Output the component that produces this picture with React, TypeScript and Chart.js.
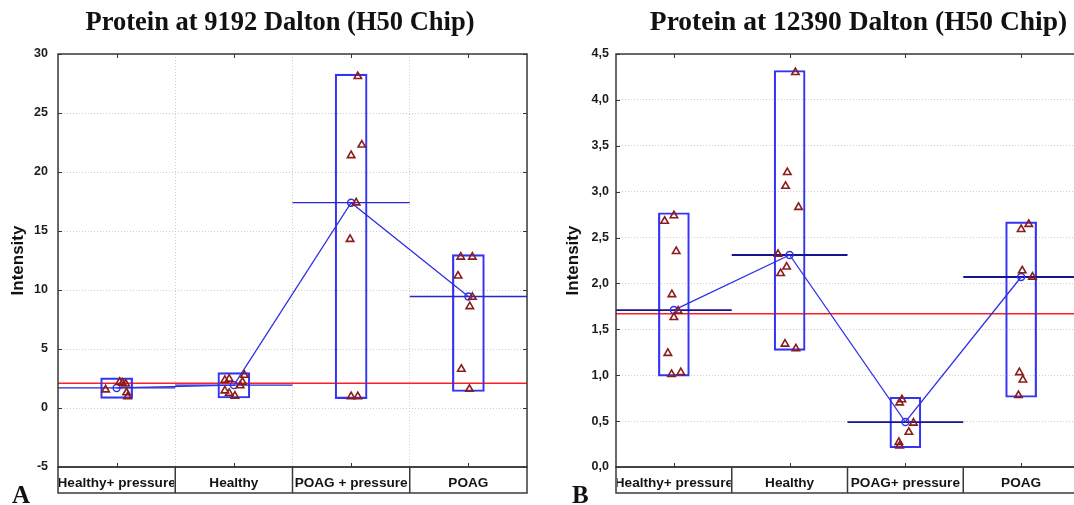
import React, { useEffect, useRef } from "react";
import { Chart, registerables } from "chart.js";

Chart.register(...registerables);

// ---------- data : panel A (9192 Dalton) ----------
const categoriesA = ["Healthy+ pressure", "Healthy", "POAG + pressure", "POAG"];
const meansA = [1.7, 1.94, 17.4, 9.45];
const boxMinA = [0.82, 0.85, 0.8, 1.4];
const boxMaxA = [2.55, 3.0, 28.3, 13.0];
const referenceA = 2.1;
const pointsA = [
  [1.55, 2.2, 2.12, 2.05, 1.3, 0.97],
  [2.35, 2.46, 2.79, 2.2, 1.9, 1.46, 1.25, 1.02],
  [28.1, 22.3, 21.4, 17.4, 14.3, 0.98, 0.98],
  [12.8, 12.8, 11.2, 9.4, 8.6, 3.3, 1.6],
];
const jitterA = [
  [-0.094, 0.026, 0.05, 0.077, 0.085, 0.094],
  [-0.077, -0.04, 0.09, 0.073, 0.054, -0.077, -0.04, 0.009],
  [0.057, 0.091, 0.0, 0.043, -0.009, 0.0, 0.057],
  [-0.065, 0.034, -0.088, 0.034, 0.012, -0.06, 0.009],
];
const yTicksA = { min: -5, max: 30, step: 5 };

// ---------- data : panel B (12390 Dalton) ----------
const categoriesB = ["Healthy+ pressure", "Healthy", "POAG+ pressure", "POAG"];
const meansB = [1.71, 2.31, 0.49, 2.07];
const boxMinB = [0.99, 1.27, 0.21, 0.76];
const boxMaxB = [2.77, 4.32, 0.76, 2.67];
const referenceB = 1.67;
const pointsB = [
  [2.68, 2.74, 2.35, 1.88, 1.7, 1.63, 1.24, 1.01, 1.03],
  [4.3, 3.21, 3.06, 2.83, 2.32, 2.18, 2.11, 1.34, 1.29],
  [0.735, 0.7, 0.48, 0.38, 0.27, 0.23],
  [2.59, 2.645, 2.14, 2.07, 1.03, 0.95, 0.78],
];
const jitterB = [
  [-0.08, 0.0, 0.02, -0.017, 0.037, 0.0, -0.052, -0.02, 0.06],
  [0.05, -0.02, -0.035, 0.077, -0.1, -0.026, -0.078, -0.04, 0.054],
  [-0.03, -0.05, 0.07, 0.03, -0.056, -0.05],
  [0.0, 0.066, 0.01, 0.098, -0.015, 0.015, -0.023],
];
const yTicksB = { min: 0, max: 4.5, step: 0.5 };

// ---------- styles ----------
const SANS = '"Liberation Sans", Arial, sans-serif';
const SERIF = '"Liberation Serif", "Times New Roman", serif';
const BOX_BLUE = "#3434f4";
const TRI_RED = "#8a1c1c";
const REF_RED = "#ff1f1f";

type PanelSpec = {
  title: string;
  letter: string;
  categories: string[];
  means: number[];
  boxMin: number[];
  boxMax: number[];
  reference: number;
  points: number[][];
  jitter: number[][];
  yTicks: { min: number; max: number; step: number };
  comma: boolean;
  layout: {
    width: number;
    plotLeft: number;
    padRight: number;
    titleX: number;
    titleSize: number;
    letterX: number;
    axisTitlePad: number;
    tickPad: number;
    barPx: number;
    xGrid: boolean;
    meanColor: string;
    meanWidth: number;
  };
};

const PAD_TOP = 54;
const PAD_BOTTOM = 12;
const BAND = 26;
const HEIGHT = 505;

const decorPlugin = {
  id: "decor",
  afterDraw(chart: any, _args: any, opts: any) {
    const { ctx, chartArea: a, scales } = chart;
    const xs = scales.x;
    const ys = scales.y;
    const line = (x1: number, y1: number, x2: number, y2: number) => {
      ctx.beginPath();
      ctx.moveTo(x1, y1);
      ctx.lineTo(x2, y2);
      ctx.stroke();
    };
    ctx.save();
    // inner tick marks
    ctx.strokeStyle = "#333";
    ctx.lineWidth = 1;
    ys.ticks.forEach((t: any) => {
      const py = Math.round(ys.getPixelForValue(t.value)) + 0.5;
      line(a.left, py, a.left + 4, py);
      line(a.right - 4, py, a.right, py);
    });
    opts.categories.forEach((_c: string, i: number) => {
      const px = Math.round(xs.getPixelForValue(i + 1)) + 0.5;
      line(px, a.top, px, a.top + 4);
      line(px, a.bottom - 4, px, a.bottom);
    });
    // plot frame
    ctx.strokeStyle = "#3a3a3a";
    ctx.lineWidth = 1.5;
    ctx.strokeRect(a.left, a.top, a.right - a.left, a.bottom - a.top);
    // category band
    const bTop = a.bottom;
    const bBot = a.bottom + BAND;
    ctx.strokeRect(a.left, bTop, a.right - a.left, bBot - bTop);
    opts.categories.forEach((c: string, i: number) => {
      const x1 = xs.getPixelForValue(i + 0.5);
      const x2 = xs.getPixelForValue(i + 1.5);
      if (i > 0) line(x1, bTop, x1, bBot);
      ctx.save();
      ctx.beginPath();
      ctx.rect(x1 + 1, bTop + 1, x2 - x1 - 2, bBot - bTop - 2);
      ctx.clip();
      ctx.fillStyle = "#141414";
      ctx.font = `bold 13.6px ${SANS}`;
      ctx.textAlign = "center";
      ctx.textBaseline = "alphabetic";
      ctx.fillText(c, (x1 + x2) / 2, bTop + 20);
      ctx.restore();
    });
    // title
    ctx.fillStyle = "#111";
    ctx.font = `bold ${opts.titleSize}px ${SERIF}`;
    ctx.textAlign = "center";
    ctx.textBaseline = "alphabetic";
    ctx.fillText(opts.title, opts.titleX, 30);
    // panel letter
    ctx.font = `bold 25px ${SERIF}`;
    ctx.textAlign = "left";
    ctx.fillText(opts.letter, opts.letterX, 503);
    ctx.restore();
  },
};

function buildConfig(p: PanelSpec): any {
  const L = p.layout;
  const half = 0.5;
  const n = p.categories.length;
  const triangles = p.points.flatMap((vals, i) =>
    vals.map((v, j) => ({ x: i + 1 + p.jitter[i][j], y: v }))
  );
  const meanSegments: any[] = [];
  p.means.forEach((m, i) => {
    meanSegments.push({ x: i + 1 - half, y: m });
    meanSegments.push({ x: i + 1 + half, y: m });
    meanSegments.push({ x: i + 1 + half, y: null });
  });
  const meanPath = p.means.map((m, i) => ({ x: i + 1, y: m }));
  const boxes = p.categories.map((_c, i) => ({ x: i + 1, y: [p.boxMin[i], p.boxMax[i]] }));
  const refLine = [
    { x: 0.5, y: p.reference },
    { x: n + 0.5, y: p.reference },
  ];

  return {
    type: "scatter",
    data: {
      datasets: [
        {
          label: "values",
          data: triangles,
          pointStyle: "triangle",
          pointRadius: 4.3,
          pointBorderWidth: 1.6,
          borderColor: TRI_RED,
          backgroundColor: "rgba(255,255,255,0)",
          showLine: false,
        },
        {
          label: "mean path",
          data: meanPath,
          showLine: true,
          borderColor: "#2f2fe6",
          borderWidth: 1.3,
          pointStyle: "circle",
          pointRadius: 3.5,
          pointBorderWidth: 1.4,
          pointBorderColor: "#2f2fe6",
          pointBackgroundColor: "rgba(255,255,255,0)",
        },
        {
          label: "mean lines",
          data: meanSegments,
          showLine: true,
          spanGaps: false,
          borderColor: L.meanColor,
          borderWidth: L.meanWidth,
          pointRadius: 0,
        },
        {
          type: "bar",
          label: "range",
          data: boxes,
          barThickness: L.barPx,
          borderColor: BOX_BLUE,
          borderWidth: 1.5,
          borderSkipped: false,
          backgroundColor: "rgba(255,255,255,0)",
        },
        {
          label: "reference",
          data: refLine,
          showLine: true,
          borderColor: REF_RED,
          borderWidth: 1.6,
          pointRadius: 0,
        },
      ],
    },
    options: {
      responsive: false,
      animation: false,
      events: [],
      layout: {
        padding: { left: 0, top: PAD_TOP, right: L.padRight, bottom: PAD_BOTTOM },
      },
      plugins: {
        legend: { display: false },
        tooltip: { enabled: false },
        decor: {
          title: p.title,
          titleX: L.titleX,
          titleSize: L.titleSize,
          letter: p.letter,
          letterX: L.letterX,
          categories: p.categories,
        },
      },
      scales: {
        x: {
          type: "linear",
          min: 0.5,
          max: n + 0.5,
          offset: false,
          afterBuildTicks: (s: any) => {
            s.ticks = p.categories.map((_c, i) => ({ value: i + 1 }));
          },
          afterFit: (s: any) => {
            s.height = BAND;
          },
          ticks: { display: false },
          grid: {
            display: L.xGrid,
            drawTicks: false,
            color: "#cdcdcd",
            lineWidth: 1,
          },
          border: { display: false, dash: [1, 2] },
        },
        y: {
          type: "linear",
          min: p.yTicks.min,
          max: p.yTicks.max,
          afterFit: (s: any) => {
            s.width = L.plotLeft;
          },
          ticks: {
            stepSize: p.yTicks.step,
            padding: L.tickPad,
            color: "#1c1c1c",
            font: { family: SANS, size: 12.5, weight: "bold" },
            callback: (v: number) => (p.comma ? v.toFixed(1).replace(".", ",") : String(v)),
          },
          grid: {
            drawTicks: false,
            color: "#cdcdcd",
            lineWidth: 1,
          },
          border: { display: false, dash: [1, 2] },
          title: {
            display: true,
            text: "Intensity",
            color: "#111",
            font: { family: SANS, size: 17, weight: "bold" },
            padding: { top: L.axisTitlePad, bottom: 0 },
          },
        },
      },
    },
    plugins: [decorPlugin],
  };
}

const panelA: PanelSpec = {
  title: "Protein at 9192 Dalton (H50 Chip)",
  letter: "A",
  categories: categoriesA,
  means: meansA,
  boxMin: boxMinA,
  boxMax: boxMaxA,
  reference: referenceA,
  points: pointsA,
  jitter: jitterA,
  yTicks: yTicksA,
  comma: false,
  layout: {
    width: 540,
    plotLeft: 58,
    padRight: 13,
    titleX: 280,
    titleSize: 26.5,
    letterX: 12,
    axisTitlePad: 8,
    tickPad: 10,
    barPx: 32,
    xGrid: true,
    meanColor: "#2626d0",
    meanWidth: 1.3,
  },
};

const panelB: PanelSpec = {
  title: "Protein at 12390 Dalton (H50 Chip)",
  letter: "B",
  categories: categoriesB,
  means: meansB,
  boxMin: boxMinB,
  boxMax: boxMaxB,
  reference: referenceB,
  points: pointsB,
  jitter: jitterB,
  yTicks: yTicksB,
  comma: true,
  layout: {
    width: 548,
    plotLeft: 76,
    padRight: 9,
    titleX: 318.5,
    titleSize: 27.5,
    letterX: 32,
    axisTitlePad: 23,
    tickPad: 7,
    barPx: 31,
    xGrid: false,
    meanColor: "#15158f",
    meanWidth: 1.8,
  },
};

function PanelChart({ spec, left }: { spec: PanelSpec; left: number }) {
  const ref = useRef<HTMLCanvasElement | null>(null);
  useEffect(() => {
    if (!ref.current) return;
    const chart = new Chart(ref.current, buildConfig(spec));
    return () => chart.destroy();
  }, [spec]);
  return (
    <canvas
      ref={ref}
      width={spec.layout.width}
      height={HEIGHT}
      style={{
        position: "absolute",
        left,
        top: 0,
        width: spec.layout.width,
        height: HEIGHT,
      }}
    />
  );
}

export default function App() {
  return (
    <div
      style={{
        position: "fixed",
        left: 0,
        top: 0,
        width: 1074,
        height: 505,
        overflow: "hidden",
        background: "#fff",
      }}
    >
      <PanelChart spec={panelA} left={0} />
      <PanelChart spec={panelB} left={540} />
    </div>
  );
}
